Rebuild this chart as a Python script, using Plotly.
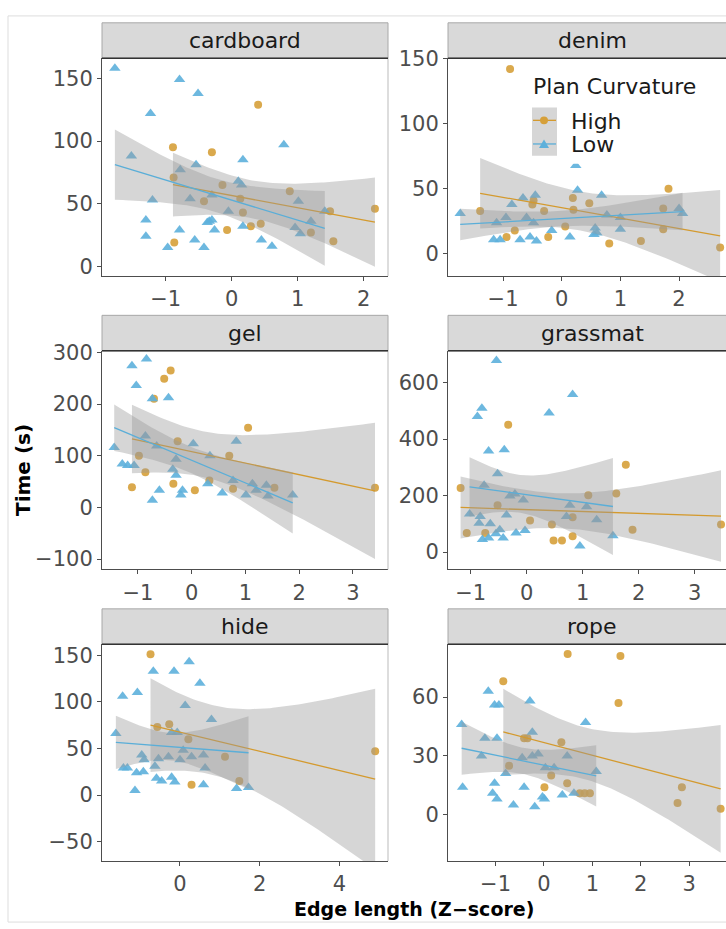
import numpy as np
import plotly.graph_objects as go

# ---------------- data ----------------
surfaces = ["cardboard", "denim", "gel", "grassmat", "hide", "rope"]
groups = ["High", "Low"]
legend_title = "Plan Curvature"

cardboard_high_x = [0.40, -0.89, -0.30, -0.88, -0.14, 0.88, 0.13, -0.42, 0.17, 1.49, 2.17, 0.44, 0.29, -0.07, 1.20, -0.87, 1.54]
cardboard_high_y = [129, 95, 91, 71, 65, 60, 54, 52, 43, 44, 46, 34, 32, 29, 27, 19, 20]
cardboard_low_x = [-1.77, -0.79, -0.51, -1.23, 0.79, -1.52, 0.17, -0.54, -0.78, 0.10, 0.15, -1.20, -0.63, -0.30, -0.05, 1.01,
                   -1.30, -0.34, -0.30, -0.37, 0.17, -0.26, -0.79, 0.96, 1.04, 1.20, -1.30, -0.56, 0.45, 0.61, -0.97, -0.42, 1.41]
cardboard_low_y = [158, 149, 138, 122, 97, 88, 85, 81, 77, 68, 65, 53, 54, 57, 44, 52,
                   37, 36, 37, 35, 32, 29, 29, 31, 26, 36, 24, 21, 21, 16, 15, 15, 44]

denim_high_x = [-0.88, -1.39, -0.48, -0.50, -0.30, 0.19, 0.20, 0.47, 1.82, 1.73, 1.73, 0.06, -0.94, -0.23, 0.81, 1.35, 2.70, -0.80]
denim_high_y = [142, 33, 41, 38, 33, 43, 34, 39, 50, 35, 19, 21, 13, 13, 8, 10, 5, 18]
denim_low_x = [-1.73, -0.95, -1.11, -0.85, -0.66, -0.60, -0.45, -0.48, -1.16, -1.05, -0.71, -0.54, -0.43, -0.17, 0.14,
               0.27, 0.24, 0.68, 0.57, 0.60, 0.55, 0.77, 1.00, 1.00, 2.00, 2.06]
denim_low_y = [31, 28, 24, 38, 43, 28, 45, 24, 11, 11, 11, 13, 10, 18, 13,
               49, 68, 45, 20, 16, 15, 30, 28, 19, 35, 31]

gel_high_x = [-0.39, -0.51, 1.05, -0.26, -0.98, 0.70, -0.86, -1.11, -0.34, 0.06, 0.33, 0.77, 1.54, 3.41, -0.70]
gel_high_y = [265, 249, 154, 128, 100, 100, 68, 39, 46, 33, 52, 36, 38, 38, 210]
gel_low_x = [-1.44, -1.11, -0.84, -1.03, -0.73, -0.43, -1.29, -1.19, -1.07, -0.86, -0.65, -0.29, -0.35, -0.29, 0.03,
             0.34, 0.83, -0.60, -0.73, -0.17, -0.20, 0.30, 0.57, 0.77, 1.01, 1.13, 1.20, 1.42, 1.88, 1.39]
gel_low_y = [116, 274, 287, 236, 210, 212, 84, 81, 81, 138, 119, 93, 74, 62, 123,
             100, 128, 33, 14, 33, 24, 46, 28, 52, 24, 46, 33, 22, 24, 43]

grassmat_high_x = [-0.33, 1.77, -1.18, 1.10, 1.60, -1.07, -0.74, 0.06, 0.45, 0.82, 0.48, 0.63, 0.82, 1.89, 3.47, -0.52]
grassmat_high_y = [451, 309, 227, 201, 207, 67, 67, 112, 97, 123, 41, 41, 56, 79, 97, 166]
grassmat_low_x = [-0.54, 0.82, -0.80, -0.88, 0.40, -0.68, -0.40, -0.52, -0.76, -0.30, -0.21, -0.06, -1.02, -0.83, -0.36,
                  -0.85, -0.65, 0.77, 1.07, 1.25, 0.71, -0.79, -0.68, -0.55, -0.48, -0.42, -0.19, -0.03, 0.95, 1.54]
grassmat_low_y = [678, 558, 509, 480, 492, 358, 362, 277, 236, 198, 205, 184, 135, 126, 131,
                  102, 100, 166, 160, 114, 126, 44, 50, 65, 79, 50, 67, 76, 21, 58]

hide_high_x = [-0.74, -0.57, -0.27, 0.21, 1.13, 1.49, 0.29, 4.90]
hide_high_y = [151, 73, 76, 60, 41, 15, 11, 47]
hide_low_x = [-1.61, -1.44, -1.07, -0.67, -0.15, 0.23, 0.50, 0.13, 0.79, -0.21, -0.07, -1.42, -1.32, -1.09, -0.92, -1.13, -0.96,
              -0.90, -0.63, -0.54, -0.59, -0.46, -0.29, -0.21, -0.13, 0.00, 0.29, 0.59, 0.63, 0.59, 1.42, 1.72, 0.08]
hide_low_y = [66, 106, 110, 133, 133, 143, 120, 96, 81, 67, 67, 29, 29, 24, 25, 5, 43,
              38, 31, 39, 18, 15, 41, 19, 14, 38, 41, 43, 29, 11, 7, 8, 48]

rope_high_x = [0.49, 1.58, 1.54, -0.84, -0.41, -0.34, 0.36, -0.72, 0.15, 0.48, 0.01, 0.74, 0.84, 0.95, 2.85, 2.76, 3.65]
rope_high_y = [82, 81, 57, 68, 39, 39, 37, 25, 20, 16, 14, 11, 11, 11, 14, 6, 3]
rope_low_x = [-1.70, -1.68, -1.15, -1.02, -0.93, -0.29, -1.22, -0.97, -1.29, -0.79, -1.02, -1.06, -0.97, -0.63, -0.41,
              -0.45, -0.24, -0.24, -0.12, -0.19, -0.03, 0.01, 0.03, 0.21, 0.48, 0.38, 0.62, 0.86, 1.08]
rope_low_y = [46, 14, 63, 56, 56, 58, 39, 39, 30, 21, 16, 11, 8, 5, 14,
              29, 42, 30, 31, 4, 9, 8, 24, 24, 30, 10, 11, 47, 22]

data = {
    "cardboard": {"High": (cardboard_high_x, cardboard_high_y), "Low": (cardboard_low_x, cardboard_low_y)},
    "denim": {"High": (denim_high_x, denim_high_y), "Low": (denim_low_x, denim_low_y)},
    "gel": {"High": (gel_high_x, gel_high_y), "Low": (gel_low_x, gel_low_y)},
    "grassmat": {"High": (grassmat_high_x, grassmat_high_y), "Low": (grassmat_low_x, grassmat_low_y)},
    "hide": {"High": (hide_high_x, hide_high_y), "Low": (hide_low_x, hide_low_y)},
    "rope": {"High": (rope_high_x, rope_high_y), "Low": (rope_low_x, rope_low_y)},
}

x_tickvals = {
    "cardboard": [-1, 0, 1, 2], "denim": [-1, 0, 1, 2], "gel": [-1, 0, 1, 2, 3],
    "grassmat": [-1, 0, 1, 2, 3], "hide": [0, 2, 4], "rope": [-1, 0, 1, 2, 3],
}
y_tickvals = {
    "cardboard": [0, 50, 100, 150], "denim": [0, 50, 100, 150], "gel": [-100, 0, 100, 200, 300],
    "grassmat": [0, 200, 400, 600], "hide": [-50, 0, 50, 100, 150], "rope": [0, 30, 60],
}

# ---------------- layout / style ----------------
W, H = 726, 929
def px(x): return x / W
def py(y): return 1 - y / H

col_px = [(102, 388), (448, 726)]
row_px = [(48, 269), (345, 567), (643, 863)]
strip_px = [(12, 48), (309, 345), (607, 643)]
strip_center_x = [245, 592]

x_ranges = {"cardboard": [-1.965, 2.368], "denim": [-1.938, 2.80], "gel": [-1.667, 3.652],
            "grassmat": [-1.405, 3.559], "hide": [-1.958, 5.222], "rope": [-1.982, 3.761]}
y_ranges = {"cardboard": [-7.6, 166], "denim": [-16.9, 150.3], "gel": [-120, 302.9],
            "grassmat": [-61.8, 712.6], "hide": [-70.8, 161.8], "rope": [-23.6, 86.9]}

colors = {"High": "#D6A03A", "Low": "#5DB0DB"}
line_colors = {"High": "#D49A2E", "Low": "#5AAED8"}
symbols = {"High": "circle", "Low": "triangle-up"}
sizes = {"High": 8, "Low": 10}
band_fill = "rgba(153,153,153,0.4)"

FONT = "DejaVu Sans, Liberation Sans, Arial"

def tq(df):
    z = 1.959964
    g1 = (z**3 + z) / 4
    g2 = (5 * z**5 + 16 * z**3 + 3 * z) / 96
    g3 = (3 * z**7 + 19 * z**5 + 17 * z**3 - 15 * z) / 384
    return z + g1 / df + g2 / df**2 + g3 / df**3

def lm_band(x, y, n=80):
    x = np.asarray(x, float); y = np.asarray(y, float)
    b, a = np.polyfit(x, y, 1)
    xs = np.linspace(x.min(), x.max(), n)
    fit = a + b * xs
    resid = y - (a + b * x)
    dof = len(x) - 2
    s = np.sqrt(np.sum(resid**2) / dof)
    sxx = np.sum((x - x.mean())**2)
    se = s * np.sqrt(1 / len(x) + (xs - x.mean())**2 / sxx)
    t = tq(dof)
    return xs, fit, fit - t * se, fit + t * se

fig = go.Figure()
shapes = []
annotations = []

for i, name in enumerate(surfaces):
    r, c = divmod(i, 2)
    k = i + 1
    xa = "x" if k == 1 else f"x{k}"
    ya = "y" if k == 1 else f"y{k}"
    for g in groups:
        gx, gy = data[name][g]
        fig.add_trace(go.Scatter(
            x=gx, y=gy, mode="markers", xaxis=xa, yaxis=ya, showlegend=False,
            marker=dict(symbol=symbols[g], size=sizes[g], color=colors[g], opacity=0.9,
                        line=dict(width=0)),
            hoverinfo="skip"))
    for g in groups:
        gx, gy = data[name][g]
        xs, fit, lo, hi = lm_band(gx, gy)
        fig.add_trace(go.Scatter(
            x=np.concatenate([xs, xs[::-1]]), y=np.concatenate([hi, lo[::-1]]),
            mode="lines", fill="toself", fillcolor=band_fill, line=dict(width=0),
            xaxis=xa, yaxis=ya, showlegend=False, hoverinfo="skip"))
        fig.add_trace(go.Scatter(
            x=xs, y=fit, mode="lines", line=dict(color=line_colors[g], width=1.3),
            xaxis=xa, yaxis=ya, showlegend=False, hoverinfo="skip"))

    x0, x1 = col_px[c]
    y0, y1 = row_px[r]
    axis_common = dict(showgrid=False, zeroline=False, showline=True, linecolor="#4d4d4d",
                       linewidth=1, ticks="outside", ticklen=4, tickcolor="#4d4d4d",
                       tickfont=dict(family=FONT, size=21, color="#4d4d4d"))
    fig.layout[f"xaxis{'' if k == 1 else k}"] = dict(
        domain=[px(x0), px(x1)], anchor=ya, range=x_ranges[name],
        tickvals=x_tickvals[name], ticktext=[str(v).replace("-", "\u2212") for v in x_tickvals[name]],
        **axis_common)
    fig.layout[f"yaxis{'' if k == 1 else k}"] = dict(
        domain=[py(y1), py(y0)], anchor=xa, range=y_ranges[name],
        tickvals=y_tickvals[name], ticktext=[str(v).replace("-", "\u2212") for v in y_tickvals[name]],
        **axis_common)
    shapes.append(dict(type="line", xref="paper", yref="paper", x0=px(x0), x1=px(x1) + (0.02 if c == 1 else 0),
                       y0=py(y0), y1=py(y0), line=dict(color="#bbbbbb", width=1)))
    if c == 0:
        shapes.append(dict(type="line", xref="paper", yref="paper", x0=px(x1), x1=px(x1),
                           y0=py(y1), y1=py(y0), line=dict(color="#bbbbbb", width=1)))
    s0, s1 = strip_px[r]
    shapes.append(dict(type="rect", xref="paper", yref="paper", x0=px(x0), x1=px(x1) + (0.03 if c == 1 else 0),
                       y0=py(s1), y1=py(s0), fillcolor="#d9d9d9", line=dict(color="#a8a8a8", width=1),
                       layer="below"))
    shapes.append(dict(type="line", xref="paper", yref="paper", x0=px(x0), x1=px(x1) + (0.03 if c == 1 else 0),
                       y0=py(s1), y1=py(s1), line=dict(color="#333333", width=1.5)))
    annotations.append(dict(text=name, xref="paper", yref="paper", x=px(strip_center_x[c]),
                            y=py((s0 + s1) / 2), showarrow=False, xanchor="center", yanchor="middle",
                            font=dict(family=FONT, size=22, color="#1a1a1a")))

# ---------------- legend (drawn inside the denim panel, ggplot style) ----------------
shapes.append(dict(type="rect", xref="paper", yref="paper", x0=px(520), x1=1.05,
                   y0=py(155), y1=py(55), fillcolor="white", line=dict(width=0), layer="above"))
shapes.append(dict(type="rect", xref="paper", yref="paper", x0=px(532), x1=px(557),
                   y0=py(147), y1=py(98), fillcolor="#d6d6d6", line=dict(width=0), layer="above"))
key_y = {"High": 111, "Low": 135}
for g in groups:
    ky = key_y[g]
    shapes.append(dict(type="line", xref="paper", yref="paper", x0=px(533), x1=px(556),
                       y0=py(ky), y1=py(ky), line=dict(color=line_colors[g], width=1.3), layer="above"))
shapes.append(dict(type="circle", xref="paper", yref="paper", x0=px(540), x1=px(548),
                   y0=py(115), y1=py(107), fillcolor=colors["High"], line=dict(width=0), layer="above"))
shapes.append(dict(type="path", xref="paper", yref="paper",
                   path=f"M {px(539)},{py(139)} L {px(549)},{py(139)} L {px(544)},{py(130.5)} Z",
                   fillcolor=colors["Low"], line=dict(width=0), layer="above"))
annotations.append(dict(text=legend_title, xref="paper", yref="paper", x=px(531), y=py(76.5),
                        showarrow=False, xanchor="left", yanchor="middle",
                        font=dict(family=FONT, size=22, color="#1a1a1a")))
for g in groups:
    annotations.append(dict(text=g, xref="paper", yref="paper", x=px(569), y=py(key_y[g] + 1),
                            showarrow=False, xanchor="left", yanchor="middle",
                            font=dict(family=FONT, size=22, color="#1a1a1a")))

# outer frame
shapes.append(dict(type="rect", xref="paper", yref="paper", x0=px(8), x1=1.05,
                   y0=py(925), y1=py(5), line=dict(color="#dddddd", width=1), fillcolor="rgba(0,0,0,0)",
                   layer="below"))

annotations.append(dict(text="<b>Time (s)</b>", xref="paper", yref="paper", x=px(23), y=py(466),
                        showarrow=False, textangle=-90, xanchor="center", yanchor="middle",
                        font=dict(family=FONT, size=20, color="#000000")))
annotations.append(dict(text="<b>Edge length (Z\u2212score)</b>", xref="paper", yref="paper", x=px(414),
                        y=py(912), showarrow=False, xanchor="center", yanchor="middle",
                        font=dict(family=FONT, size=19, color="#000000")))

fig.update_layout(
    width=W, height=H, margin=dict(l=0, r=0, t=0, b=0),
    paper_bgcolor="white", plot_bgcolor="rgba(0,0,0,0)",
    shapes=shapes, annotations=annotations, showlegend=False,
)

fig.write_html("out.html")
